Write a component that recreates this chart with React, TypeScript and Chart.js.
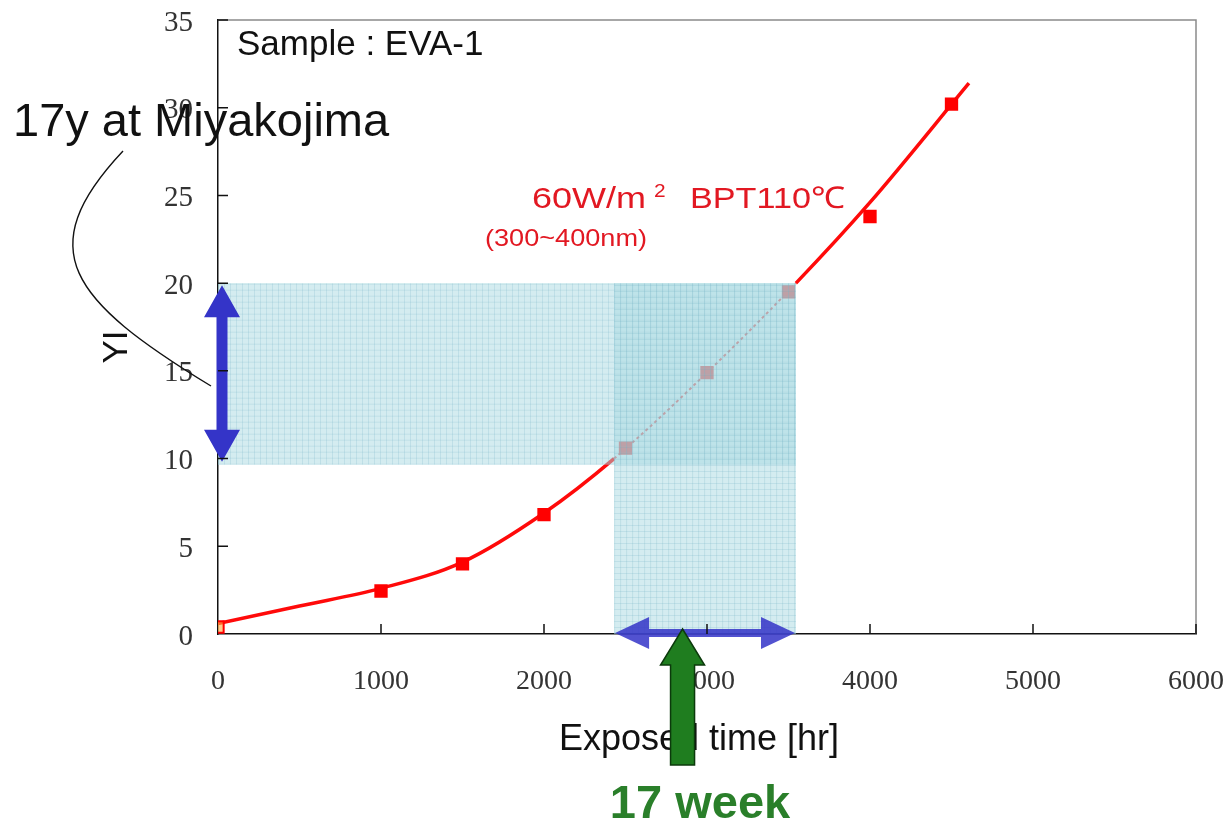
import React, { useEffect, useRef } from "react";
import { Chart, registerables } from "chart.js";

Chart.register(...registerables);

// ---- data ----
const markerHours = [0, 1000, 1500, 2000, 2500, 3000, 3500, 4000, 4500];
const markerYI = [0.4, 2.45, 4.0, 6.8, 10.6, 14.9, 19.5, 23.8, 30.2];
const fitHours = [0, 500, 1000, 1500, 2000, 2430, 3000, 3546, 4000, 4607];
const fitYI = [0.6, 1.6, 2.6, 4.1, 6.9, 10.0, 14.9, 20.0, 24.6, 31.4];
const xTicks = [0, 1000, 2000, 3000, 4000, 5000, 6000];
const yTicks = [0, 5, 10, 15, 20, 25, 30, 35];
const bandHours = [2430, 3546]; // 17-week window on time axis
const bandYI = [9.65, 20]; // 17y Miyakojima YI range
const arrowHour = 2850;

const SANS = "'Liberation Sans', Arial, sans-serif";
const SERIF = "'Liberation Serif', 'Times New Roman', serif";

const inBand = (x: number) => x >= bandHours[0] - 1 && x <= bandHours[1] + 1;

export default function App() {
  const ref = useRef<HTMLCanvasElement | null>(null);

  useEffect(() => {
    document.body.style.margin = "0";
    const canvas = ref.current!;
    const overlay = {
      id: "overlay",
      afterDatasetsDraw(chart: any) {
        const ctx = chart.ctx as CanvasRenderingContext2D;
        const xs = chart.scales.x;
        const ys = chart.scales.y;
        const X = (v: number) => xs.getPixelForValue(v);
        const Y = (v: number) => ys.getPixelForValue(v);
        const band = (x0: number, x1: number, y0: number, y1: number) => {
          ctx.save();
          ctx.fillStyle = "rgba(167,216,224,0.49)";
          ctx.fillRect(x0, y0, x1 - x0, y1 - y0);
          ctx.beginPath();
          ctx.rect(x0, y0, x1 - x0, y1 - y0);
          ctx.clip();
          ctx.strokeStyle = "rgba(110,175,195,0.2)";
          ctx.lineWidth = 1;
          ctx.beginPath();
          for (let x = x0 + 0.5; x < x1; x += 6) {
            ctx.moveTo(x, y0);
            ctx.lineTo(x, y1);
          }
          for (let y = y1 - 0.5; y > y0; y -= 6) {
            ctx.moveTo(x0, y);
            ctx.lineTo(x1, y);
          }
          ctx.stroke();
          ctx.restore();
        };
        // horizontal band
        band(X(0), X(bandHours[1]), Y(bandYI[1]), Y(bandYI[0]));
        // vertical band
        band(X(bandHours[0]), X(bandHours[1]), Y(bandYI[1]), Y(0));

        // blue vertical double arrow
        const cx = X(0) + 4;
        const yt = Y(bandYI[1]) + 2;
        const yb = Y(bandYI[0]) - 3;
        const sw = 5.5, hw = 18, hl = 32;
        ctx.save();
        ctx.fillStyle = "#3434c8";
        ctx.beginPath();
        ctx.moveTo(cx, yt);
        ctx.lineTo(cx + hw, yt + hl);
        ctx.lineTo(cx + sw, yt + hl);
        ctx.lineTo(cx + sw, yb - hl);
        ctx.lineTo(cx + hw, yb - hl);
        ctx.lineTo(cx, yb);
        ctx.lineTo(cx - hw, yb - hl);
        ctx.lineTo(cx - sw, yb - hl);
        ctx.lineTo(cx - sw, yt + hl);
        ctx.lineTo(cx - hw, yt + hl);
        ctx.closePath();
        ctx.fill();

        // blue horizontal double arrow on time axis
        const cy = Y(0) - 1;
        const xl = X(bandHours[0]) + 1;
        const xr = X(bandHours[1]) - 1;
        const sh = 4, hh = 16, hL = 34;
        ctx.fillStyle = "rgba(52,52,200,0.85)";
        ctx.beginPath();
        ctx.moveTo(xl, cy);
        ctx.lineTo(xl + hL, cy - hh);
        ctx.lineTo(xl + hL, cy - sh);
        ctx.lineTo(xr - hL, cy - sh);
        ctx.lineTo(xr - hL, cy - hh);
        ctx.lineTo(xr, cy);
        ctx.lineTo(xr - hL, cy + hh);
        ctx.lineTo(xr - hL, cy + sh);
        ctx.lineTo(xl + hL, cy + sh);
        ctx.lineTo(xl + hL, cy + hh);
        ctx.closePath();
        ctx.fill();
        ctx.restore();
      },
      afterDraw(chart: any) {
        const ctx = chart.ctx as CanvasRenderingContext2D;
        const a = chart.chartArea;
        const xs = chart.scales.x;
        const ys = chart.scales.y;
        const X = (v: number) => xs.getPixelForValue(v);
        const Y = (v: number) => ys.getPixelForValue(v);
        ctx.save();
        // frame top/right
        ctx.strokeStyle = "#8a8a8a";
        ctx.lineWidth = 1.5;
        ctx.beginPath();
        ctx.moveTo(a.left, a.top);
        ctx.lineTo(a.right, a.top);
        ctx.lineTo(a.right, a.bottom);
        ctx.stroke();
        // inward ticks
        ctx.strokeStyle = "#111";
        ctx.lineWidth = 1.5;
        ctx.beginPath();
        yTicks.forEach((t) => {
          if (t === 0) return;
          ctx.moveTo(a.left, Y(t));
          ctx.lineTo(a.left + 10, Y(t));
        });
        xTicks.forEach((t) => {
          if (t === 0) return;
          ctx.moveTo(X(t), a.bottom);
          ctx.lineTo(X(t), a.bottom - 10);
        });
        ctx.stroke();

        // texts
        ctx.fillStyle = "#111";
        ctx.textBaseline = "alphabetic";
        ctx.textAlign = "left";
        ctx.font = `35px ${SANS}`;
        ctx.fillText("Sample : EVA-1", 237, 55);

        ctx.fillStyle = "#e21822";
        const stretched = (txt: string, x: number, y: number, size: number, sx: number) => {
          ctx.save();
          ctx.translate(x, y);
          ctx.scale(sx, 1);
          ctx.font = `${size}px ${SANS}`;
          ctx.fillText(txt, 0, 0);
          ctx.restore();
        };
        stretched("60W/m", 532, 208, 30, 1.2);
        stretched("2", 654, 197, 19, 1.1);
        stretched("BPT110℃", 690, 208, 30, 1.14);
        stretched("(300~400nm)", 485, 246, 24, 1.13);

        // axis titles
        ctx.fillStyle = "#111";
        ctx.font = `36px ${SANS}`;
        ctx.textAlign = "center";
        ctx.fillText("Exposed time [hr]", 699, 750);
        ctx.save();
        ctx.translate(127, 347);
        ctx.rotate(-Math.PI / 2);
        ctx.font = `35px ${SANS}`;
        ctx.fillText("YI", 0, 0);
        ctx.restore();

        // 17y at Miyakojima
        ctx.textAlign = "left";
        ctx.font = `47px ${SANS}`;
        ctx.fillStyle = "#111";
        ctx.fillText("17y at Miyakojima", 13, 136);
        ctx.strokeStyle = "#111";
        ctx.lineWidth = 1.4;
        ctx.beginPath();
        ctx.moveTo(123, 151);
        ctx.bezierCurveTo(30, 250, 70, 300, 211, 386);
        ctx.stroke();

        // green arrow
        const gx = X(arrowHour);
        const tip = Y(0) - 5;
        const hw = 22, hl = 36, sw = 12;
        const base = 765;
        ctx.fillStyle = "#1f7d1f";
        ctx.strokeStyle = "#0c3a0c";
        ctx.lineWidth = 1.5;
        ctx.beginPath();
        ctx.moveTo(gx, tip);
        ctx.lineTo(gx + hw, tip + hl);
        ctx.lineTo(gx + sw, tip + hl);
        ctx.lineTo(gx + sw, base);
        ctx.lineTo(gx - sw, base);
        ctx.lineTo(gx - sw, tip + hl);
        ctx.lineTo(gx - hw, tip + hl);
        ctx.closePath();
        ctx.fill();
        ctx.stroke();

        ctx.fillStyle = "#2a7f2a";
        ctx.font = `bold 47px ${SANS}`;
        ctx.textAlign = "center";
        ctx.fillText("17 week", 700, 818);
        ctx.restore();
      },
    };

    const chart = new Chart(canvas, {
      type: "scatter",
      data: {
        datasets: [
          {
            label: "EVA-1",
            data: markerHours.map((h, i) => ({ x: h, y: markerYI[i] })),
            showLine: false,
            pointStyle: "rect",
            pointRadius: 8,
            backgroundColor: markerHours.map((h) => (h === 0 ? "rgba(255,170,60,0.6)" : "#ff0000")),
            borderColor: "#ff0000",
            borderWidth: 2,
            order: 0,
          },
          {
            label: "fit",
            data: fitHours.map((h, i) => ({ x: h, y: fitYI[i] })),
            showLine: true,
            pointRadius: 0,
            borderColor: "#ff0a0a",
            borderWidth: 3.5,
            cubicInterpolationMode: "monotone",
            segment: {
              borderDash: (c: any) =>
                inBand(c.p0.parsed.x) && inBand(c.p1.parsed.x) ? [3, 3] : undefined,
              borderWidth: (c: any) =>
                inBand(c.p0.parsed.x) && inBand(c.p1.parsed.x) ? 2 : undefined,
            },
            order: 1,
          },
        ],
      },
      options: {
        animation: false,
        responsive: false,
        layout: { padding: { left: 0, top: 20, right: 34, bottom: 0 } },
        plugins: { legend: { display: false }, tooltip: { enabled: false } },
        scales: {
          x: {
            type: "linear",
            min: 0,
            max: 6000,
            afterFit: (s: any) => {
              s.height = 189;
              s.paddingLeft = 0;
              s.paddingRight = 0;
            },
            afterBuildTicks: (s: any) => {
              s.ticks = xTicks.map((v) => ({ value: v }));
            },
            grid: { display: true, drawOnChartArea: false, drawTicks: false },
            border: { display: true, color: "#111", width: 1.5 },
            ticks: {
              font: { family: SERIF, size: 28 },
              color: "#333",
              padding: 31,
              callback: (v: any) => String(v),
            },
          },
          y: {
            type: "linear",
            min: 0,
            max: 35,
            afterFit: (s: any) => {
              s.width = 218;
              s.paddingTop = 0;
              s.paddingBottom = 0;
            },
            afterBuildTicks: (s: any) => {
              s.ticks = yTicks.map((v) => ({ value: v }));
            },
            grid: { display: true, drawOnChartArea: false, drawTicks: false },
            border: { display: true, color: "#111", width: 1.5 },
            ticks: {
              font: { family: SERIF, size: 29 },
              color: "#333",
              padding: 25,
              labelOffset: 3,
              callback: (v: any) => String(v),
            },
          },
        },
      },
      plugins: [overlay],
    });
    return () => chart.destroy();
  }, []);

  return (
    <div style={{ position: "absolute", left: 0, top: 0, width: 1230, height: 823, background: "#fff" }}>
      <canvas ref={ref} width={1230} height={823} style={{ width: 1230, height: 823 }} />
    </div>
  );
}
